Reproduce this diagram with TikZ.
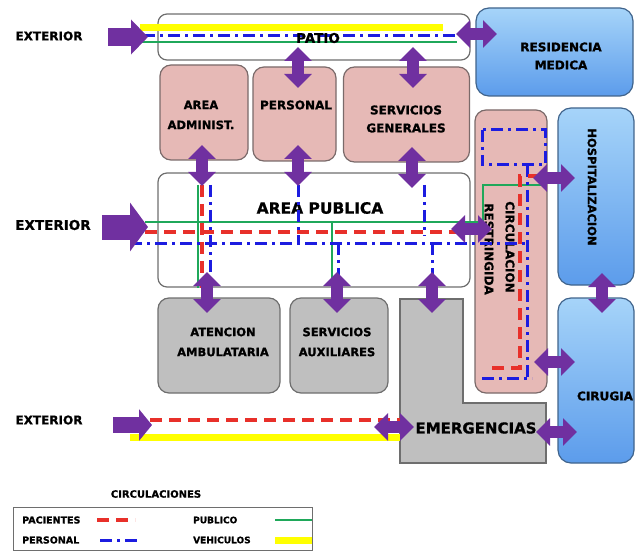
\documentclass[tikz,border=0pt]{standalone}
\usepackage{fontspec}
\setmainfont{DejaVu Sans}[BoldFeatures={FakeBold=1}]
\usetikzlibrary{arrows.meta}
\definecolor{arrowpurple}{HTML}{7030A0}
\definecolor{pinkfill}{HTML}{E6B9B6}
\definecolor{pinkline}{HTML}{7A6A6A}
\definecolor{grayfill}{HTML}{BFBFBF}
\definecolor{grayline}{HTML}{6E6E6E}
\definecolor{blueL}{HTML}{A6D4F9}
\definecolor{blueD}{HTML}{5C9CEB}
\definecolor{blueline}{HTML}{40648C}
\definecolor{pacred}{HTML}{E8302A}
\definecolor{perblue}{HTML}{1C1CE0}
\definecolor{pubgreen}{HTML}{1FA85A}
\definecolor{vehyellow}{HTML}{FFFF00}
\begin{document}
\begin{tikzpicture}[x=1pt,y=-1pt,
  whitebox/.style={draw=grayline, line width=1.2pt, fill=white, rounded corners=9pt, inner sep=0pt},
  pinkbox/.style={draw=pinkline, line width=1.2pt, fill=pinkfill, rounded corners=11pt, inner sep=0pt},
  graybox/.style={draw=grayline, line width=1.2pt, fill=grayfill, rounded corners=11pt, inner sep=0pt},
  bluebox/.style={draw=blueline, line width=1.2pt, top color=blueL, bottom color=blueD, rounded corners=13pt, inner sep=0pt},
  lbl/.style={inner sep=0pt, font=\fontsize{11.5}{13}\selectfont\bfseries, align=center},
  pac/.style={draw=pacred, line width=3.2pt, dash pattern=on 12pt off 7pt},
  per/.style={draw=perblue, line width=3pt, dash pattern=on 12pt off 5pt on 3pt off 5pt},
  pub/.style={draw=pubgreen, line width=2.8pt},
  veh/.style={draw=vehyellow, line width=7pt},
  dbl/.style={draw=arrowpurple, line width=12pt, {Triangle[length=14pt,width=27pt]}-{Triangle[length=14pt,width=27pt]}},
]
\useasboundingbox (0,0) rectangle (636,553);

% ---------- boxes ----------
\node[whitebox, minimum width=312, minimum height=46] (patio) at (314,37) {};
\node[bluebox, minimum width=157, minimum height=88] (resid) at (554.5,52) {};
\node[pinkbox, minimum width=88, minimum height=95] (adm) at (204,112.5) {};
\node[pinkbox, minimum width=83, minimum height=94] (personal) at (294.5,114) {};
\node[pinkbox, minimum width=126, minimum height=95] (servgen) at (406.5,114.5) {};
\node[whitebox, minimum width=312, minimum height=114] (ap) at (314,230) {};
\node[pinkbox, minimum width=72, minimum height=283] (circ) at (511,251.5) {};
\node[bluebox, minimum width=76, minimum height=177] (hosp) at (596,196.5) {};
\node[bluebox, minimum width=76, minimum height=165] (cirugia) at (596,380.5) {};
\node[graybox, minimum width=122, minimum height=95] (atn) at (219,345.5) {};
\node[graybox, minimum width=98, minimum height=95] (saux) at (339,345.5) {};
\draw[draw=grayline, line width=1.2pt, fill=grayfill]
  (400,299) -- (463,299) -- (463,403) -- (546,403) -- (546,463) -- (400,463) -- cycle;

% ---------- texts ----------
\node[lbl, font=\fontsize{12}{14}\selectfont\bfseries] (ext1) at (49,36) {EXTERIOR};
\node[lbl, font=\fontsize{13.5}{15}\selectfont\bfseries] (ext2) at (53,225) {EXTERIOR};
\node[lbl, font=\fontsize{12}{14}\selectfont\bfseries] (ext3) at (49,420) {EXTERIOR};
\node[lbl, font=\fontsize{12}{18}\selectfont\bfseries] (tresid) at (561,56) {RESIDENCIA\\MEDICA};
\node[lbl, font=\fontsize{11.5}{20}\selectfont\bfseries] (tadm) at (201,115) {AREA\\ADMINIST.};
\node[lbl, font=\fontsize{12}{14}\selectfont\bfseries] (tpersonal) at (296,105) {PERSONAL};
\node[lbl, font=\fontsize{12}{18}\selectfont\bfseries] (tservgen) at (406,119) {SERVICIOS\\GENERALES};
\node[lbl, font=\fontsize{15.5}{17}\selectfont\bfseries] (tap) at (320,208) {AREA PUBLICA};
\node[lbl, rotate=-90, font=\fontsize{12}{14}\selectfont\bfseries] (tcirc1) at (510,247) {CIRCULACION};
\node[lbl, rotate=-90, font=\fontsize{12}{14}\selectfont\bfseries] (tcirc2) at (489,249) {RESTRINGIDA};
\node[lbl, rotate=-90, font=\fontsize{11.5}{13}\selectfont\bfseries] (thosp) at (592,187) {HOSPITALIZACION};
\node[lbl, font=\fontsize{12}{14}\selectfont\bfseries] (tcir) at (605,396) {CIRUGIA};
\node[lbl, font=\fontsize{15}{17}\selectfont\bfseries] (temerg) at (476,428) {EMERGENCIAS};
\node[lbl, font=\fontsize{11.5}{20}\selectfont\bfseries] (tatn) at (223,342) {ATENCION\\AMBULATARIA};
\node[lbl, font=\fontsize{11.5}{20}\selectfont\bfseries] (tsaux) at (337,342) {SERVICIOS\\AUXILIARES};

% ---------- circulation lines ----------
% top (patio)
\draw[veh] (140,28) -- (443,28);
\draw[per] (143,36) -- (455,36);
\draw[pub] (140,42) -- (457,42);
% area publica
\draw[pub] (145,222) -- (483,222) -- (483,185) -- (542,185);
\draw[pub] (198,185) -- (198,288);
\draw[pub] (332,222) -- (332,288);
\draw[pac] (145,232) -- (462,232);
\draw[pac] (202,185) -- (202,288);
\draw[per] (130,243) -- (527,243);
\draw[per] (210,185) -- (210,288);
\draw[per] (298,185) -- (298,243);
\draw[per] (338,243) -- (338,288);
\draw[per] (424,185) -- (424,236);
\draw[per] (432,243) -- (432,288);
% circulacion restringida
\draw[per] (482,130) rectangle (545,165);
\draw[per] (527,165) -- (527,378);
\draw[per] (482,378) -- (532,378);
\draw[pac] (540,176) -- (520,176) -- (520,368) -- (492,368);
% bottom (emergencias)
\draw[pac] (150,420) -- (405,420);
\draw[veh] (130,437) -- (400,437);

% PATIO label sits over its lines
\node[lbl, font=\fontsize{13.5}{15}\selectfont\bfseries] (tpatio) at (318,38) {PATIO};

% ---------- purple arrows ----------
\coordinate (e1a) at (108,37);  \coordinate (e1b) at (148,37);
\coordinate (e2a) at (102,227); \coordinate (e2b) at (148,227);
\coordinate (e3a) at (113,425); \coordinate (e3b) at (152,425);
\draw[draw=arrowpurple, line width=18pt, -{Triangle[length=17pt,width=34pt]}] (e1a) -- (e1b);
\draw[draw=arrowpurple, line width=25pt, -{Triangle[length=18pt,width=48pt]}] (e2a) -- (e2b);
\draw[draw=arrowpurple, line width=16pt, -{Triangle[length=13pt,width=31pt]}] (e3a) -- (e3b);

\coordinate (pr1) at (456,34);  \coordinate (pr2) at (497,34);
\coordinate (pp1) at (298,47);  \coordinate (pp2) at (298,88);
\coordinate (ps1) at (413,47);  \coordinate (ps2) at (413,88);
\coordinate (aa1) at (202,145); \coordinate (aa2) at (202,186);
\coordinate (ap1) at (298,145); \coordinate (ap2) at (298,186);
\coordinate (as1) at (412,147); \coordinate (as2) at (412,188);
\coordinate (at1) at (207,272); \coordinate (at2) at (207,313);
\coordinate (au1) at (337,272); \coordinate (au2) at (337,313);
\coordinate (ae1) at (432,272); \coordinate (ae2) at (432,313);
\coordinate (ac1) at (451,229); \coordinate (ac2) at (492,229);
\coordinate (ch1) at (533,178); \coordinate (ch2) at (575,178);
\coordinate (cc1) at (534,362); \coordinate (cc2) at (575,362);
\coordinate (hc1) at (602,273); \coordinate (hc2) at (602,313);
\coordinate (ec1) at (536,432); \coordinate (ec2) at (577,432);
\coordinate (be1) at (374,427); \coordinate (be2) at (414,427);
\draw[dbl] (pr1) -- (pr2);
\draw[dbl] (pp1) -- (pp2);
\draw[dbl] (ps1) -- (ps2);
\draw[dbl] (aa1) -- (aa2);
\draw[dbl] (ap1) -- (ap2);
\draw[dbl] (as1) -- (as2);
\draw[dbl] (at1) -- (at2);
\draw[dbl] (au1) -- (au2);
\draw[dbl] (ae1) -- (ae2);
\draw[dbl] (ac1) -- (ac2);
\draw[dbl] (ch1) -- (ch2);
\draw[dbl] (cc1) -- (cc2);
\draw[dbl] (hc1) -- (hc2);
\draw[dbl] (ec1) -- (ec2);
\draw[dbl] (be1) -- (be2);

% ---------- legend ----------
\node[lbl, font=\fontsize{10}{12}\selectfont\bfseries] (tleg) at (156,494) {CIRCULACIONES};
\node[draw=grayline, line width=1pt, minimum width=299, minimum height=43, inner sep=0pt] (legbox) at (162.5,528.5) {};
\node[lbl, anchor=west, font=\fontsize{9.5}{11}\selectfont\bfseries] (lpac) at (22,520) {PACIENTES};
\node[lbl, anchor=west, font=\fontsize{9.5}{11}\selectfont\bfseries] (lper) at (22,540) {PERSONAL};
\node[lbl, anchor=west, font=\fontsize{9}{11}\selectfont\bfseries] (lpub) at (193,520) {PUBLICO};
\node[lbl, anchor=west, font=\fontsize{9}{11}\selectfont\bfseries] (lveh) at (193,540) {VEHICULOS};
\coordinate (lpa1) at (97,520);  \coordinate (lpa2) at (135,520);
\coordinate (lpe1) at (100,540); \coordinate (lpe2) at (140,540);
\coordinate (lpu1) at (275,520); \coordinate (lpu2) at (312,520);
\coordinate (lve1) at (275,540); \coordinate (lve2) at (312,540);
\draw[pac] (lpa1) -- (lpa2);
\draw[per] (lpe1) -- (lpe2);
\draw[pub] (lpu1) -- (lpu2);
\draw[veh] (lve1) -- (lve2);
\end{tikzpicture}
\end{document}
